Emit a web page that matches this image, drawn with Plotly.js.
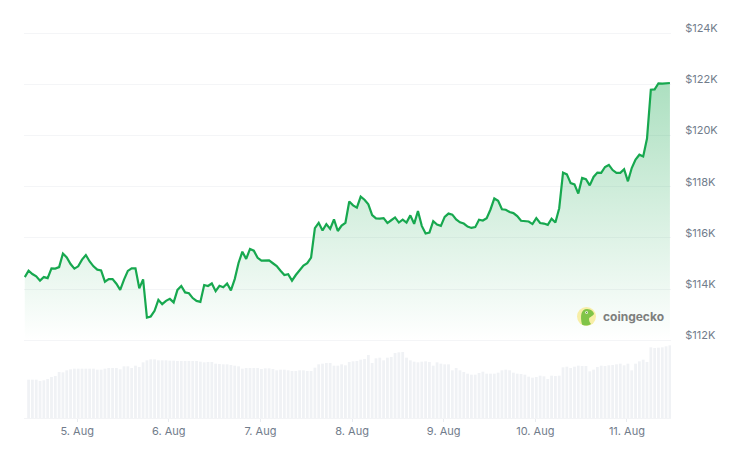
<!DOCTYPE html>
<html>
<head>
<meta charset="utf-8">
<script src="https://cdn.plot.ly/plotly-3.0.1.min.js"></script>
<style>html,body{margin:0;padding:0;background:#fff}#chart{width:740px;height:450px}</style>
</head>
<body>
<div id="chart"></div>
<script>
// Price in $K, one reading per hour
const priceK = [
114.47,114.72,114.59,114.50,114.33,114.47,114.43,114.81,114.80,114.86,
115.39,115.24,114.98,114.80,114.89,115.15,115.33,115.08,114.89,114.76,
114.73,114.29,114.39,114.39,114.21,113.97,114.37,114.71,114.81,114.81,
114.03,114.38,112.89,112.93,113.15,113.58,113.41,113.54,113.62,113.48,
113.97,114.12,113.87,113.84,113.65,113.54,113.50,114.16,114.12,114.22,
113.92,114.13,114.07,114.22,113.95,114.39,115.02,115.46,115.18,115.57,
115.50,115.22,115.11,115.11,115.12,115.01,114.90,114.72,114.55,114.58,
114.33,114.55,114.75,114.92,115.01,115.23,116.38,116.59,116.29,116.54,
116.35,116.72,116.27,116.48,116.59,117.42,117.27,117.18,117.61,117.49,
117.31,116.89,116.76,116.75,116.77,116.58,116.69,116.80,116.60,116.71,
116.60,116.88,116.55,117.05,116.47,116.17,116.21,116.65,116.52,116.47,
116.82,116.95,116.91,116.72,116.61,116.56,116.44,116.39,116.42,116.71,
116.68,116.77,117.11,117.54,117.45,117.12,117.10,117.01,116.97,116.85,
116.67,116.65,116.64,116.54,116.77,116.58,116.56,116.51,116.75,116.60,
117.16,118.55,118.48,118.14,118.09,117.73,118.34,118.29,118.05,118.38,
118.55,118.54,118.77,118.85,118.65,118.54,118.54,118.68,118.21,118.73,
119.06,119.25,119.18,119.88,121.79,121.80,122.04,122.03,122.03,122.05];

// Relative trading volume, from the second reading onward
const volume = [
115,115,115,111,113,117,123,126,138,137,
143,146,148,148,148,148,148,148,145,145,
148,150,150,150,146,155,155,150,157,153,
167,173,176,176,173,173,173,172,172,171,
171,171,171,171,171,169,167,168,168,163,
162,161,161,159,157,155,
148,150,150,150,150,147,149,149,147,143,
145,145,143,141,141,143,143,141,141,151,
161,163,165,165,157,157,161,158,168,170,
171,175,177,189,165,179,181,173,181,183,
195,197,198,181,173,169,167,169,170,168,
157,167,163,161,161,143,150,143,138,133,
130,130,135,139,133,
133,133,136,143,145,143,136,133,
132,130,124,121,123,127,125,117,127,126,127,
152,154,150,154,157,156,156,140,145,153,157,
156,158,159,161,163,158,163,143,163,170,175,168,
212,210,211,212,215,218];

const dayTicks = ['2025-08-05','2025-08-06','2025-08-07','2025-08-08','2025-08-09','2025-08-10','2025-08-11'];
const dayLabels = ['5. Aug','6. Aug','7. Aug','8. Aug','9. Aug','10. Aug','11. Aug'];
const priceTicks = [112,114,116,118,120,122,124];
const priceLabels = ['$112K','$114K','$116K','$118K','$120K','$122K','$124K'];

const firstHour = Date.UTC(2025,7,4,10,16);
const times = priceK.map((_,i)=>new Date(firstHour+i*3600e3).toISOString());

// plot frame in window pixels
const L=24,R=671,T=20,B=418;
const K=25.6, Y112=340.3;
const priceAt = p => 112+(Y112-p)/K;
const px = x => (x-L)/(R-L);
const py = y => (B-y)/(B-T);

const GREEN='#17a84f', GRID='#f4f5f7', TXT='#717c8b';

const traces = [
 {type:'bar',x:times.slice(1),y:volume,yaxis:'y2',marker:{color:'#f0f2f5',line:{width:0}},hoverinfo:'skip',showlegend:false},
 {type:'scatter',mode:'lines',x:times,y:priceK,line:{color:GREEN,width:2.2,shape:'linear'},
  fill:'tozeroy',
  fillgradient:{type:'vertical',start:112,stop:122.2,
    colorscale:[[0,'rgba(22,166,78,0)'],[1,'rgba(22,166,78,0.36)']]},
  hoverinfo:'skip',showlegend:false},
 // carries the price axis labels only
 {type:'scatter',mode:'lines',x:dayTicks,y:priceTicks,yaxis:'y3',line:{color:'rgba(0,0,0,0)',width:0},hoverinfo:'skip',showlegend:false}
];

const shapes=[
 {type:'circle',xref:'paper',yref:'paper',x0:px(577),x1:px(596),y0:py(326),y1:py(307),
  fillcolor:'#f7eea6',line:{width:0},layer:'above'},
 {type:'path',xref:'paper',yref:'paper',layer:'above',fillcolor:'#80c448',line:{width:0},
  path:`M ${px(582)} ${py(324.5)} C ${px(580)} ${py(316)} ${px(581)} ${py(309)} ${px(587)} ${py(309)} C ${px(591)} ${py(309)} ${px(594)} ${py(312)} ${px(594)} ${py(314)} C ${px(592)} ${py(317)} ${px(589)} ${py(317)} ${px(589)} ${py(319)} C ${px(589)} ${py(321)} ${px(590)} ${py(323)} ${px(591)} ${py(324)} C ${px(588)} ${py(326)} ${px(584)} ${py(326)} ${px(582)} ${py(324.5)} Z`},
 {type:'circle',xref:'paper',yref:'paper',x0:px(585.2),x1:px(588),y0:py(314),y1:py(311.2),
  fillcolor:'#f4f7ee',line:{width:0},layer:'above'},
 {type:'circle',xref:'paper',yref:'paper',x0:px(586),x1:px(587.2),y0:py(313.2),y1:py(312),
  fillcolor:'#4f6a3a',line:{width:0},layer:'above'}
];

const layout = {
 width:740,height:450,
 margin:{l:L,r:740-R,t:T,b:450-B,pad:0},
 paper_bgcolor:'#fff',plot_bgcolor:'#fff',
 font:{family:'Inter, sans-serif',size:11,color:TXT},
 bargap:0.27,showlegend:false,
 xaxis:{type:'date',range:['2025-08-04 10:04','2025-08-11 11:33'],
   tickmode:'array',tickvals:dayTicks,ticktext:dayLabels,
   showgrid:false,zeroline:false,showline:true,linecolor:'#f3f4f6',linewidth:1,
   ticks:'outside',ticklen:3,tickcolor:'#e9ecf0',tickwidth:1,
   tickfont:{family:'Inter, sans-serif',size:11,color:TXT}},
 yaxis:{range:[priceAt(B),priceAt(T)],tickmode:'array',tickvals:priceTicks,ticktext:priceTicks.map(()=>''),
   showticklabels:false,showgrid:true,gridcolor:GRID,gridwidth:1,zeroline:false,showline:false,ticks:''},
 yaxis2:{overlaying:'y',range:[0,(B-T)*3],visible:false,fixedrange:true},
 // the price labels sit a few pixels above their grid lines
 yaxis3:{overlaying:'y',side:'right',range:[priceAt(B+5),priceAt(T+5)],
   tickmode:'array',tickvals:priceTicks,ticktext:priceLabels,
   showgrid:false,zeroline:false,showline:false,ticks:'outside',ticklen:11,tickcolor:'rgba(0,0,0,0)',
   tickfont:{family:'Inter, sans-serif',size:11,color:TXT}},
 shapes:shapes,
 annotations:[{xref:'paper',yref:'paper',x:px(601),y:py(316),xanchor:'left',yanchor:'middle',
   text:'<b>coingecko</b>',showarrow:false,font:{family:'Inter, sans-serif',size:12,color:'#7d7f7d'}}]
};
Plotly.newPlot('chart',traces,layout,{displayModeBar:false,staticPlot:true});
</script>
</body>
</html>
